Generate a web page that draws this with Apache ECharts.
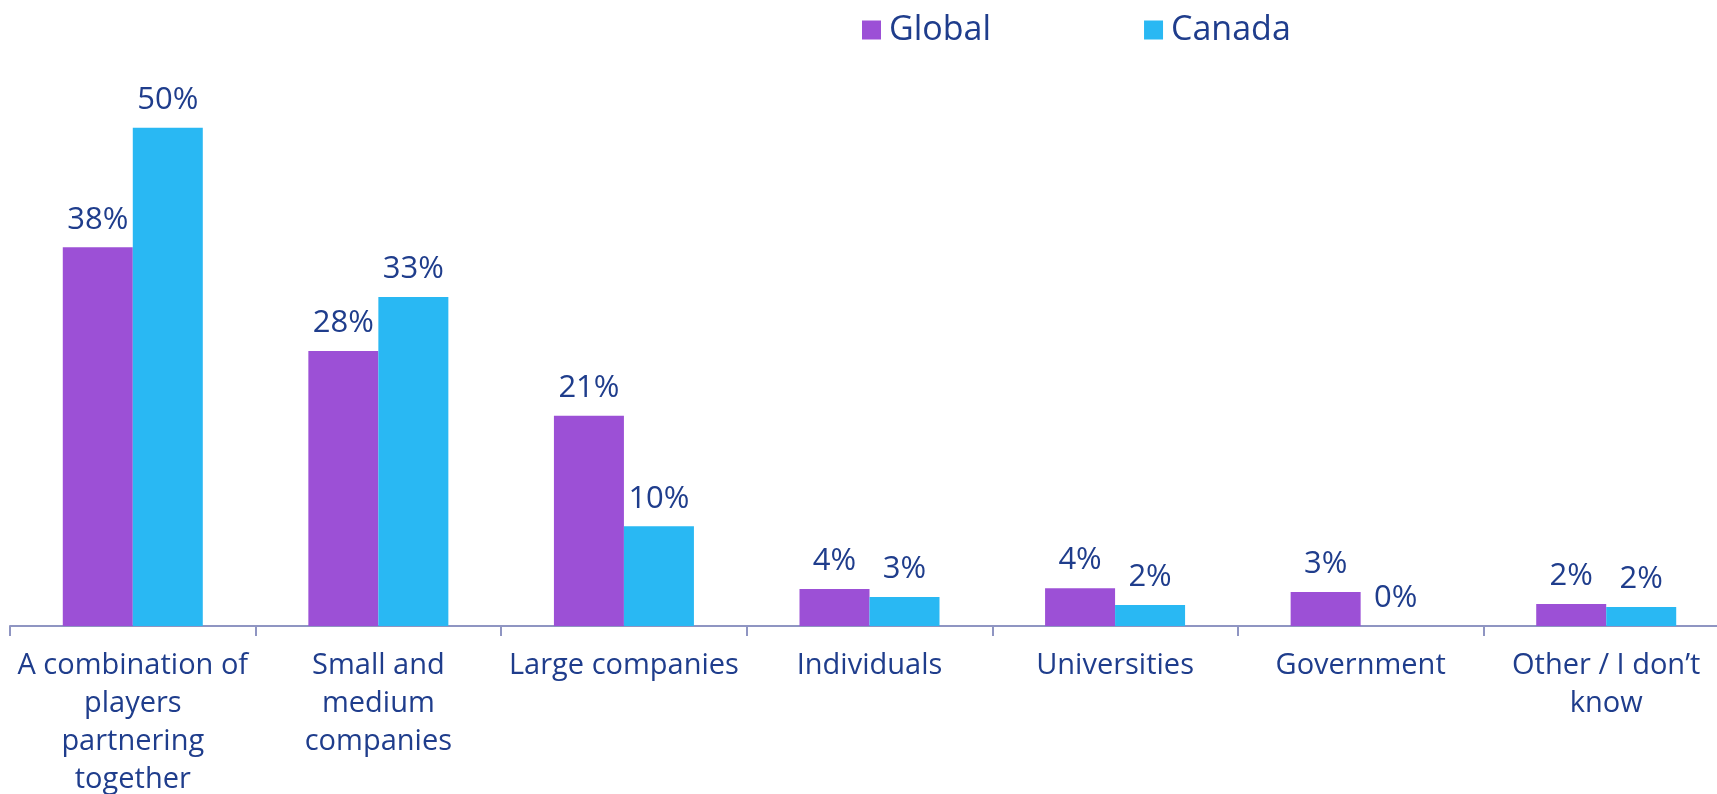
<!DOCTYPE html>
<html>
<head>
<meta charset="utf-8">
<script src="https://cdn.jsdelivr.net/npm/echarts@6/dist/echarts.min.js"></script>
<style>
html,body{margin:0;padding:0;background:#fff;}
#chart{width:1717px;height:794px;}
</style>
</head>
<body>
<div id="chart"></div>
<script>
const categories = [
  'A combination of\nplayers\npartnering\ntogether',
  'Small and\nmedium\ncompanies',
  'Large companies',
  'Individuals',
  'Universities',
  'Government',
  'Other / I don\u2019t\nknow'
];
const seriesNames = ['Global', 'Canada'];
const globalValues = [38, 27.6, 21.1, 3.7, 3.8, 3.4, 2.2];
const canadaValues = [50, 33, 10, 2.9, 2.1, 0, 1.9];

const textColor = '#1f3d8c';
const fontFamily = '"Open Sans", Lato, sans-serif';

const chart = echarts.init(document.getElementById('chart'));
const labelOpt = {
  show: true,
  position: 'top',
  distance: 12,
  color: textColor,
  fontFamily: fontFamily,
  fontSize: 31,
  formatter: p => Math.round(p.value) + '%'
};
chart.setOption({
  animation: false,
  legend: {
    left: 857,
    top: 8,
    itemWidth: 19,
    itemHeight: 19,
    itemGap: 153,
    icon: 'rect',
    textStyle: { color: textColor, fontFamily: fontFamily, fontSize: 34, padding: [0, 0, 0, 3] },
    data: seriesNames
  },
  grid: { left: 10, top: 28, width: 1719, bottom: 168, outerBoundsMode: 'none' },
  xAxis: {
    type: 'category',
    data: categories,
    axisLine: { lineStyle: { color: '#8f95c2', width: 2 } },
    axisTick: { show: true, length: 10, lineStyle: { color: '#8f95c2', width: 2 } },
    axisLabel: {
      interval: 0,
      color: textColor,
      fontFamily: fontFamily,
      fontSize: 29,
      lineHeight: 38,
      margin: 21,
      align: 'center'
    }
  },
  yAxis: {
    type: 'value',
    min: 0,
    max: 60,
    show: false,
    splitLine: { show: false }
  },
  series: [
    {
      name: seriesNames[0],
      type: 'bar',
      data: globalValues,
      barWidth: 70,
      barGap: '0%',
      itemStyle: { color: '#9c50d6' },
      label: labelOpt
    },
    {
      name: seriesNames[1],
      type: 'bar',
      data: canadaValues,
      barWidth: 70,
      barGap: '0%',
      itemStyle: { color: '#29b8f3' },
      label: labelOpt
    }
  ]
});
</script>
</body>
</html>
